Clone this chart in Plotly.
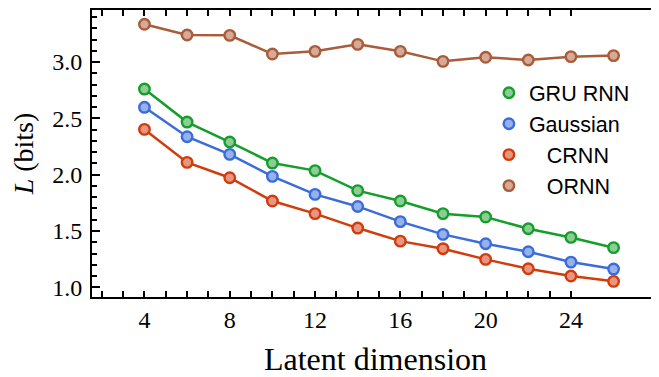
import plotly.graph_objects as go

latent_dim = [4, 6, 8, 10, 12, 14, 16, 18, 20, 22, 24, 26]
gru_rnn = [2.76, 2.467, 2.29, 2.103, 2.036, 1.858, 1.766, 1.654, 1.624, 1.52, 1.443, 1.352]
gaussian = [2.598, 2.337, 2.18, 1.985, 1.825, 1.718, 1.583, 1.47, 1.387, 1.316, 1.224, 1.162]
crnn = [2.402, 2.109, 1.973, 1.766, 1.654, 1.526, 1.41, 1.343, 1.248, 1.165, 1.1, 1.053]
ornn = [3.335, 3.24, 3.237, 3.071, 3.095, 3.157, 3.095, 3.006, 3.042, 3.018, 3.048, 3.057]

series_names = ["GRU RNN", "Gaussian", "CRNN", "ORNN"]
legend_labels = ["GRU RNN", "Gaussian", "\u00a0\u00a0\u00a0CRNN", "\u00a0\u00a0\u00a0ORNN"]
series_values = [gru_rnn, gaussian, crnn, ornn]
line_colors = ["rgb(22,158,42)", "rgb(58,108,218)", "rgb(208,60,12)", "rgb(168,92,58)"]
fill_colors = ["rgb(140,205,150)", "rgb(150,178,236)", "rgb(232,150,128)", "rgb(214,170,150)"]

x_ticks = list(range(2, 25))
x_ticktext = [str(v) if v % 4 == 0 else "" for v in x_ticks]
y_major = [1.0, 1.5, 2.0, 2.5, 3.0]
y_minor = [round(1.0 + 0.1 * i, 1) for i in range(25)]

fig = go.Figure()
for name, lab, vals, lc, fc in zip(series_names, legend_labels, series_values, line_colors, fill_colors):
    fig.add_trace(go.Scatter(
        x=latent_dim, y=vals, mode="lines+markers", name=name, showlegend=False,
        line=dict(color=lc, width=2.5),
        marker=dict(symbol="circle", size=10.5, color=fc, line=dict(color=lc, width=2.4)),
    ))
for name, lab, lc, fc in zip(series_names, legend_labels, line_colors, fill_colors):
    fig.add_trace(go.Scatter(
        x=[None], y=[None], mode="markers", name=lab, showlegend=True,
        marker=dict(symbol="circle", size=10.5, color=fc, line=dict(color=lc, width=2.4)),
    ))

fig.update_layout(
    width=651, height=369,
    margin=dict(l=84, r=0, t=2, b=80, autoexpand=False),
    plot_bgcolor="white", paper_bgcolor="white",
    showlegend=True,
    legend=dict(
        x=0.70, y=0.783, xanchor="left", yanchor="top",
        bgcolor="rgba(0,0,0,0)",
        font=dict(family="Liberation Sans", size=21.5, color="black"),
        itemwidth=30, tracegroupgap=0,
    ),
    xaxis=dict(
        range=[1.54, 28.13], automargin=False,
        tickmode="array", tickvals=x_ticks, ticktext=x_ticktext,
        ticks="inside", ticklen=6, tickwidth=1.5, tickcolor="black",
        showline=True, linewidth=2, linecolor="black", mirror="allticks",
        showgrid=False, zeroline=False,
        tickfont=dict(family="Liberation Serif", size=24, color="black"),
        ticklabelstandoff=0,
        title=dict(text="Latent dimension", font=dict(family="Liberation Serif", size=32, color="black"), standoff=26),
    ),
    yaxis=dict(
        range=[0.914, 3.462], automargin=False,
        tickmode="array", tickvals=y_major, ticktext=["1.0", "1.5", "2.0", "2.5", "3.0"],
        ticks="inside", ticklen=8, tickwidth=1.5, tickcolor="black",
        minor=dict(tickmode="array", tickvals=y_minor, ticks="inside", ticklen=5, tickwidth=1.5, tickcolor="black", showgrid=False),
        showline=True, linewidth=2, linecolor="black",
        showgrid=False, zeroline=False,
        tickfont=dict(family="Liberation Serif", size=24, color="black"),
        ticklabelstandoff=3,
        title=dict(text="<i>L</i> (bits)", font=dict(family="Liberation Serif", size=28, color="black"), standoff=10),
    ),
)

fig.write_html("out.html")
